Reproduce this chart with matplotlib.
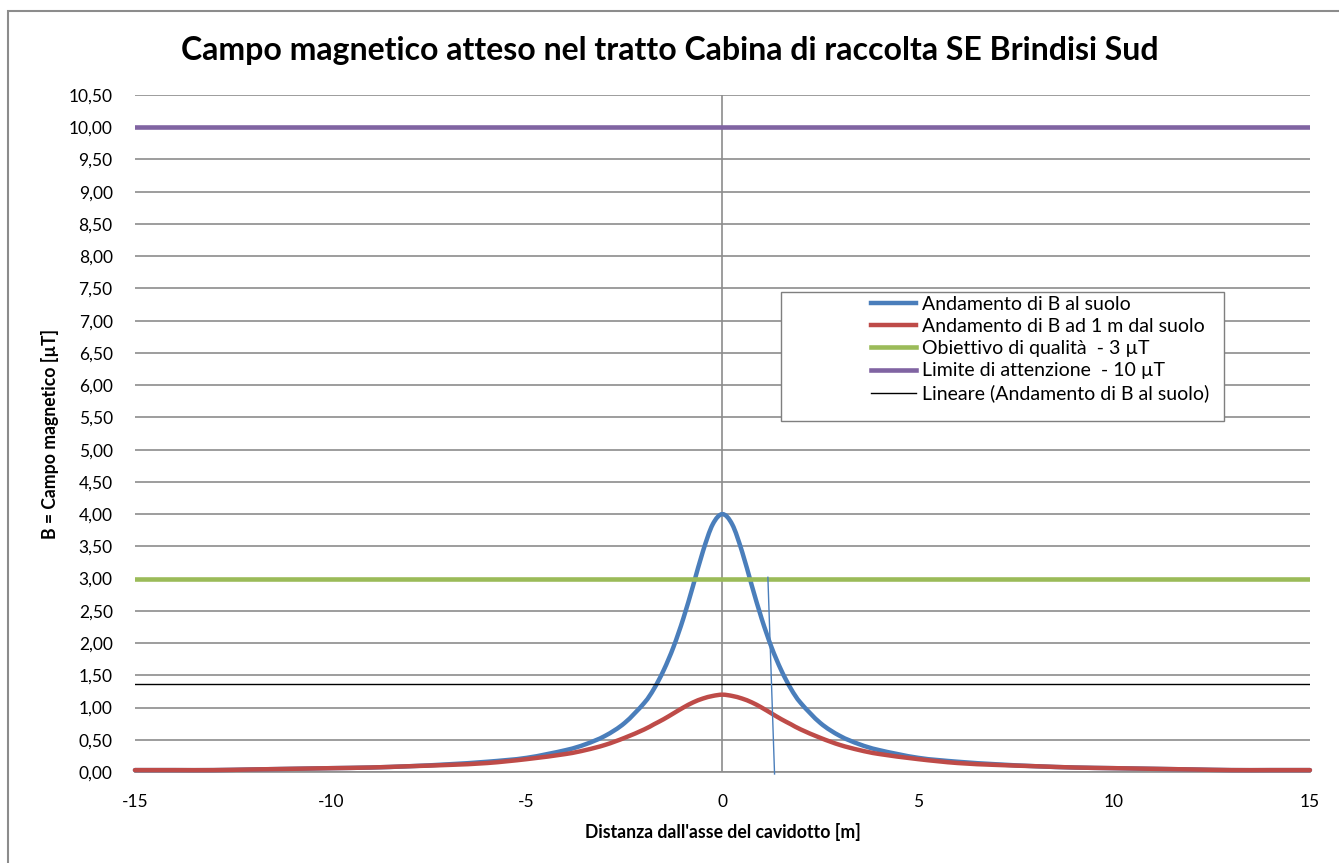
import matplotlib
matplotlib.use("Agg")

import matplotlib.pyplot as plt
import numpy as np
from matplotlib.lines import Line2D
from matplotlib.patches import PathPatch, Rectangle
from matplotlib.path import Path
from matplotlib.ticker import FuncFormatter, MultipleLocator

plt.rcParams["font.family"] = ["Lato", "DejaVu Sans"]
plt.rcParams["axes.unicode_minus"] = False

# distance from cable axis [m]
DIST = [-15, -14, -13, -12, -11, -10, -9, -8, -7, -6, -5, -4, -3.5, -3, -2.5,
        -2, -1.75, -1.5, -1.25, -1, -0.75, -0.5, -0.25, 0, 0.25, 0.5, 0.75, 1,
        1.25, 1.5, 1.75, 2, 2.5, 3, 3.5, 4, 5, 6, 7, 8, 9, 10, 11, 12, 13, 14, 15]
# B at ground level [uT]
B_SUOLO = [0.03, 0.03, 0.03, 0.04, 0.05, 0.06, 0.07, 0.09, 0.12, 0.16, 0.22, 0.34,
           0.43, 0.56, 0.76, 1.07, 1.29, 1.58, 1.94, 2.38, 2.89, 3.42, 3.84, 4.00,
           3.84, 3.42, 2.89, 2.38, 1.94, 1.58, 1.29, 1.07, 0.76, 0.56, 0.43, 0.34,
           0.22, 0.16, 0.12, 0.09, 0.07, 0.06, 0.05, 0.04, 0.03, 0.03, 0.03]
# B at 1 m above ground [uT]
B_1M = [0.03, 0.03, 0.03, 0.04, 0.05, 0.06, 0.07, 0.09, 0.11, 0.14, 0.20, 0.28,
        0.34, 0.42, 0.53, 0.66, 0.74, 0.82, 0.91, 1.00, 1.08, 1.14, 1.18, 1.20,
        1.18, 1.14, 1.08, 1.00, 0.91, 0.82, 0.74, 0.66, 0.53, 0.42, 0.34, 0.28,
        0.20, 0.14, 0.11, 0.09, 0.07, 0.06, 0.05, 0.04, 0.03, 0.03, 0.03]

LIMIT_X = [-15, 15]
OBIETTIVO = [3.0, 3.0]
ATTENZIONE = [10.0, 10.0]
TREND = [1.37, 1.37]          # linear trendline of the ground-level series

# thin hand-drawn marker line near the 3 uT crossing
MARK_X = [1.16, 1.33]
MARK_Y = [3.02, -0.03]

BLUE, RED, GREEN, PURPLE = "#4a7ebb", "#be4b48", "#9bbb59", "#8064a2"
GRID = "#8c8c8c"


def smooth_path(xs, ys):
    """Excel-style smoothed line: cubic Bezier segments through every point."""
    p = np.column_stack([xs, ys]).astype(float)
    verts, codes = [p[0]], [Path.MOVETO]
    for i in range(len(p) - 1):
        p0 = p[max(i - 1, 0)]
        p3 = p[min(i + 2, len(p) - 1)]
        c1 = p[i] + (p[i + 1] - p0) / 6.0
        c2 = p[i + 1] - (p3 - p[i]) / 6.0
        verts += [c1, c2, p[i + 1]]
        codes += [Path.CURVE4] * 3
    return Path(verts, codes)


def smooth_line(axis, xs, ys, color, lw, zorder=3):
    patch = PathPatch(smooth_path(xs, ys), facecolor="none", edgecolor=color, lw=lw,
                      capstyle="round", joinstyle="round", clip_on=False, zorder=zorder)
    axis.add_patch(patch)


fig = plt.figure(figsize=(13.39, 8.63), dpi=100)
ax = fig.add_axes([0.1008, 0.1054, 0.8775, 0.7845])

smooth_line(ax, DIST, B_SUOLO, BLUE, 3.2)
smooth_line(ax, DIST, B_1M, RED, 3.2)
ax.plot(LIMIT_X, OBIETTIVO, color=GREEN, lw=3.3, zorder=3)
ax.plot(LIMIT_X, ATTENZIONE, color=PURPLE, lw=3.3, zorder=3)
ax.plot(LIMIT_X, TREND, color="black", lw=1.0, zorder=3)
ax.plot(MARK_X, MARK_Y, color=BLUE, lw=1.0, clip_on=False, zorder=4)

ax.set_xlim(-15, 15)
ax.set_ylim(0, 10.5)
ax.xaxis.set_major_locator(MultipleLocator(5))
ax.yaxis.set_major_locator(MultipleLocator(0.5))
ax.yaxis.set_major_formatter(FuncFormatter(lambda v, p: f"{v:.2f}".replace(".", ",")))
ax.xaxis.set_major_formatter(FuncFormatter(lambda v, p: f"{v:.0f}"))
ax.tick_params(axis="both", length=0, labelsize=12.5, pad=16)

ax.grid(axis="y", color=GRID, lw=1.2)
ax.set_axisbelow(True)
for side in ("left", "right", "top"):
    ax.spines[side].set_visible(False)
ax.spines["bottom"].set_color(GRID)
ax.spines["bottom"].set_linewidth(1.2)
ax.axvline(0, color=GRID, lw=1.2, zorder=1)

ax.set_xlabel("Distanza dall'asse del cavidotto [m]", fontsize=12.7, fontweight="bold",
              labelpad=9)
ax.set_ylabel("B = Campo magnetico [µT]", fontsize=12.7, fontweight="bold", labelpad=7)
fig.suptitle("Campo magnetico atteso nel tratto Cabina di raccolta SE Brindisi Sud",
             x=0.5, y=0.958, fontsize=23, fontweight="bold")

# legend with an Excel-like wide box
handles = [
    Line2D([], [], color=BLUE, lw=3.2),
    Line2D([], [], color=RED, lw=3.2),
    Line2D([], [], color=GREEN, lw=3.3),
    Line2D([], [], color=PURPLE, lw=3.3),
    Line2D([], [], color="black", lw=1.0),
]
labels = ["Andamento di B al suolo", "Andamento di B ad 1 m dal suolo",
          "Obiettivo di qualità  - 3 µT", "Limite di attenzione  - 10 µT",
          "Lineare (Andamento di B al suolo)"]
fig.patches.append(Rectangle((0.5833, 0.5122), 0.3308, 0.1494, transform=fig.transFigure,
                             fill=True, facecolor="white", edgecolor="#7f7f7f", lw=1.0,
                             zorder=5))
leg = fig.legend(handles, labels, loc="upper left", bbox_to_anchor=(0.6505, 0.6575),
                 frameon=False, fontsize=14, handlelength=2.3, handletextpad=0.3,
                 labelspacing=0.27, borderaxespad=0, borderpad=0)
leg.set_zorder(6)

# chart-area border
fig.patches.append(Rectangle((0.006, -0.05), 1.1, 1.037, transform=fig.transFigure,
                             fill=False, edgecolor="#8c8c8c", lw=1.5))

fig.savefig("out.png", dpi=100)
